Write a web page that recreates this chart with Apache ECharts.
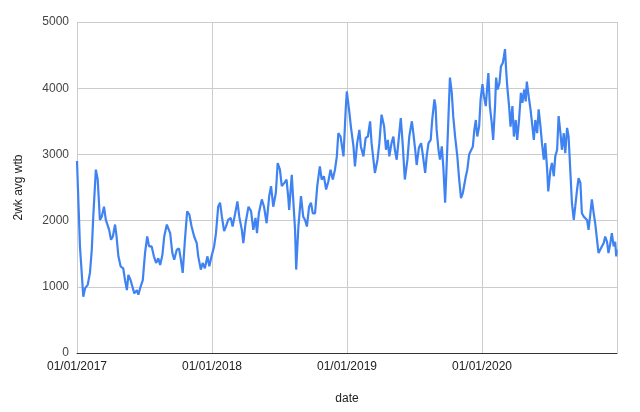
<!DOCTYPE html>
<html>
<head>
<meta charset="utf-8">
<script src="https://cdn.jsdelivr.net/npm/echarts@6/dist/echarts.min.js"></script>
<style>
html,body{margin:0;padding:0;background:#fff;}
#chart{width:640px;height:412px;}
</style>
</head>
<body>
<div id="chart"></div>
<script>
// Days since 01/01/2017
const dayOffsets = [0,8,17,22,29,35,40,44,51,56,62,67,73,78,83,87,92,97,103,107,112,118,125,130,135,139,145,150,155,162,166,172,178,184,190,195,202,208,214,220,225,231,236,243,246,252,258,263,270,276,281,286,292,298,304,310,317,324,328,335,340,346,353,358,364,371,376,382,387,392,398,403,409,416,421,428,434,439,446,450,456,464,471,477,483,487,492,500,506,513,520,525,531,538,543,549,554,561,567,572,574,581,585,590,593,599,606,612,617,622,628,633,638,644,650,657,662,668,674,680,686,692,698,703,707,713,721,727,730,736,741,748,752,758,764,768,775,781,787,793,797,802,806,813,818,824,831,836,841,845,851,856,860,865,869,876,881,887,894,899,906,910,915,919,925,931,935,942,946,951,957,961,967,970,973,978,982,987,991,996,1000,1005,1009,1014,1018,1023,1029,1034,1039,1044,1048,1052,1056,1061,1066,1071,1075,1079,1083,1088,1092,1097,1101,1106,1110,1113,1117,1122,1126,1131,1134,1138,1143,1147,1152,1155,1158,1161,1164,1169,1173,1178,1182,1187,1191,1196,1201,1205,1210,1214,1217,1222,1227,1231,1236,1240,1245,1249,1254,1258,1263,1267,1272,1275,1281,1285,1290,1294,1299,1303,1308,1312,1317,1321,1326,1330,1335,1339,1344,1348,1353,1357,1362,1366,1371,1375,1380,1384,1389,1393,1398,1402,1407,1411,1416,1420,1425,1429,1434,1438,1443,1447,1452,1456,1459,1460];
// 2wk avg wtb
const values = [2900,1610,850,980,1030,1210,1560,2060,2770,2620,2010,2060,2210,2010,2040,1860,1710,1760,1940,1760,1460,1310,1280,1100,950,1180,1100,1000,900,950,880,1000,1100,1510,1760,1610,1610,1460,1360,1430,1330,1480,1760,1940,1960,1810,1510,1410,1560,1580,1410,1210,1710,2140,2090,1910,1760,1660,1460,1260,1360,1280,1460,1310,1460,1610,1810,2210,2270,2060,1840,1910,2010,2040,1910,2110,2290,2060,1860,1660,1960,2210,2140,1860,2040,1810,2110,2320,2210,1960,2370,2520,2210,2420,2870,2770,2520,2570,2620,2320,2160,2690,2320,1860,1260,1910,2370,2060,2010,1910,2210,2270,2110,2110,2520,2820,2620,2670,2470,2590,2770,2620,2770,2970,3320,3270,2970,3680,3950,3680,3420,3120,2820,3170,3370,3120,2970,3250,3270,3500,3170,2920,2720,2920,3170,3600,3420,3070,3220,2970,3170,3270,3070,2920,3150,3550,3170,2620,2920,3270,3500,3320,3070,2840,3100,3170,3020,2720,2970,3170,3220,3520,3830,3730,3370,3070,2920,3120,2820,2270,2820,3570,4160,3930,3570,3270,2970,2620,2340,2420,2420,2670,2770,3000,3020,3120,3370,3520,3270,3420,3830,4060,3880,3730,4030,4230,3730,3480,3220,3730,4160,3980,4080,4330,4380,4480,4590,4280,4030,3730,3420,3730,3270,3520,3220,3520,3930,3780,3980,3800,4100,3880,3680,3480,3220,3520,3320,3680,3420,3170,2920,3170,2770,2440,2770,2870,2670,2970,3070,3580,3320,3070,3320,3020,3400,3270,2720,2270,2010,2210,2470,2640,2570,2110,2060,2090,2010,1860,2110,2320,2110,1960,1710,1510,1480,1610,1660,1760,1680,1510,1660,1810,1610,1680,1460,1560];
const tickLabels = ['01/01/2017','01/01/2018','01/01/2019','01/01/2020','01/01/2021'];

const FONT = 'Arial, "Liberation Sans", sans-serif';
const chart = echarts.init(document.getElementById('chart'), null, {renderer:'canvas'});
chart.setOption({
  animation: false,
  backgroundColor: '#ffffff',
  grid: {left: 77, right: 23, top: 22, bottom: 59, containLabel: false},
  xAxis: {
    type: 'value', min: 0, max: 1461, interval: 365.25,
    name: 'date', nameLocation: 'middle', nameGap: 40,
    nameTextStyle: {color: '#222', fontSize: 12, fontFamily: FONT},
    axisLine: {show: true, lineStyle: {color: '#333', width: 1}},
    axisTick: {show: false},
    axisLabel: {
      color: '#222', fontSize: 12, fontFamily: FONT, margin: 8,
      showMaxLabel: false,
      formatter: function (v) { return tickLabels[Math.round(v / 365.25)] || ''; }
    },
    splitLine: {show: true, lineStyle: {color: '#cccccc', width: 1}}
  },
  yAxis: {
    type: 'value', min: 0, max: 5000, interval: 1000,
    name: '2wk avg wtb', nameLocation: 'middle', nameGap: 52,
    nameTextStyle: {color: '#222', fontSize: 12, fontFamily: FONT},
    axisLine: {show: false},
    axisTick: {show: false},
    axisLabel: {color: '#444', fontSize: 12, fontFamily: FONT, margin: 8,
      formatter: function (v) { return String(v); }},
    splitLine: {show: true, lineStyle: {color: '#cccccc', width: 1}}
  },
  series: [{
    type: 'line',
    data: dayOffsets.map((d, i) => [d, values[i]]),
    showSymbol: false,
    symbol: 'none',
    lineStyle: {color: '#3f83f3', width: 2.2},
    itemStyle: {color: '#3f83f3'},
    z: 3
  }]
});
</script>
</body>
</html>
